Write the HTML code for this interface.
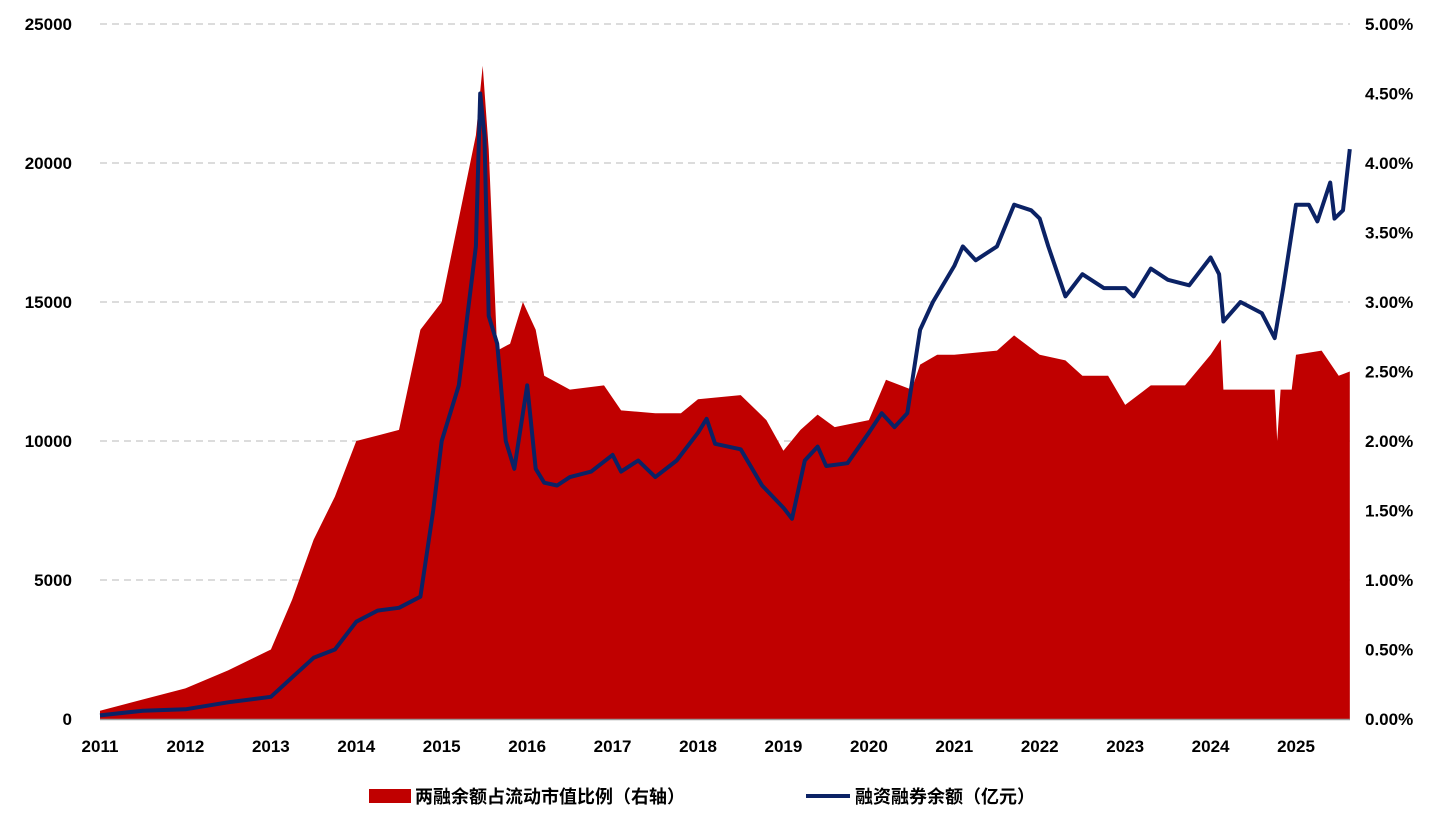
<!DOCTYPE html>
<html><head><meta charset="utf-8"><style>
html,body{margin:0;padding:0;background:#fff;}
svg text{font-family:"Liberation Sans","Noto Sans CJK SC",sans-serif;font-weight:bold;fill:#000;}
</style></head><body>
<svg id="chart" width="1441" height="829" xmlns="http://www.w3.org/2000/svg">
<g id="grid"></g><g id="area"></g><g id="line"></g><g id="axes"></g>
<g>
<rect x="369" y="789" width="42" height="14" fill="#c00000"/>
<text x="415" y="803" font-size="18">两融余额占流动市值比例（右轴）</text>
<line x1="806" y1="796" x2="850" y2="796" stroke="#0b2265" stroke-width="4"/>
<text x="855" y="803" font-size="18">融资融券余额（亿元）</text>
</g>
</svg>
<script>
const ratioT=[2011.0,2011.5,2012.0,2012.5,2013.0,2013.25,2013.5,2013.75,2014.0,2014.5,2014.75,2015.0,2015.2,2015.4,2015.48,2015.55,2015.65,2015.8,2015.95,2016.1,2016.2,2016.5,2016.9,2017.1,2017.5,2017.8,2018.0,2018.5,2018.8,2019.0,2019.2,2019.4,2019.6,2020.0,2020.2,2020.5,2020.6,2020.8,2021.0,2021.5,2021.7,2022.0,2022.3,2022.5,2022.8,2023.0,2023.3,2023.7,2024.0,2024.12,2024.15,2024.75,2024.78,2024.82,2024.95,2025.0,2025.3,2025.5,2025.63];
const ratioV=[0.06,0.14,0.22,0.35,0.5,0.86,1.29,1.6,2.0,2.08,2.8,3.0,3.6,4.2,4.7,4.1,2.65,2.7,3.0,2.8,2.47,2.37,2.4,2.22,2.2,2.2,2.3,2.33,2.15,1.93,2.08,2.19,2.1,2.15,2.44,2.37,2.55,2.62,2.62,2.65,2.76,2.62,2.58,2.47,2.47,2.26,2.4,2.4,2.62,2.73,2.37,2.37,2.0,2.37,2.37,2.62,2.65,2.47,2.5];
const balT=[2011.0,2011.5,2012.0,2012.5,2013.0,2013.25,2013.5,2013.75,2014.0,2014.25,2014.5,2014.75,2014.9,2015.0,2015.2,2015.4,2015.45,2015.5,2015.55,2015.65,2015.75,2015.85,2016.0,2016.1,2016.2,2016.35,2016.5,2016.75,2017.0,2017.1,2017.3,2017.5,2017.75,2018.0,2018.1,2018.2,2018.5,2018.75,2019.0,2019.1,2019.25,2019.4,2019.5,2019.75,2020.0,2020.15,2020.3,2020.45,2020.6,2020.75,2021.0,2021.1,2021.25,2021.5,2021.7,2021.9,2022.0,2022.1,2022.3,2022.5,2022.75,2023.0,2023.1,2023.3,2023.5,2023.75,2024.0,2024.1,2024.15,2024.35,2024.6,2024.75,2024.85,2025.0,2025.15,2025.25,2025.4,2025.45,2025.55,2025.63];
const balV=[130,300,350,600,800,1500,2200,2500,3500,3900,4000,4400,7500,10000,12000,17000,22500,21000,14500,13500,10000,9000,12000,9000,8500,8400,8700,8900,9500,8900,9300,8700,9300,10300,10800,9900,9700,8400,7600,7200,9300,9800,9100,9200,10300,11000,10500,11000,14000,15000,16300,17000,16500,17000,18500,18300,18000,17000,15200,16000,15500,15500,15200,16200,15800,15600,16600,16000,14300,15000,14600,13700,15500,18500,18500,17900,19300,18000,18300,20500];
const leftTicks=[0,5000,10000,15000,20000,25000];
const rightTicks=["0.00%","0.50%","1.00%","1.50%","2.00%","2.50%","3.00%","3.50%","4.00%","4.50%","5.00%"];
const yearTicks=[2011,2012,2013,2014,2015,2016,2017,2018,2019,2020,2021,2022,2023,2024,2025];
const NS="http://www.w3.org/2000/svg";
const x=t=>100+(t-2011)*85.43;
const yL=v=>719-v*695/25000;
const yR=p=>719-p*695/5;
function mk(tag,attrs,parent){const e=document.createElementNS(NS,tag);for(const k in attrs)e.setAttribute(k,attrs[k]);document.getElementById(parent).appendChild(e);return e;}
leftTicks.forEach((v,i)=>{
 if(v>0){const g=mk('line',{x1:100,x2:1350,y1:yL(v),y2:yL(v),stroke:'#c8c8c8','stroke-width':1.2,'stroke-dasharray':'7,5'},'grid');
 
 }
 const t=mk('text',{x:72,y:yL(v)+6,'text-anchor':'end','font-size':17},'axes');t.textContent=v;
 
 
});
rightTicks.forEach((s,i)=>{
 const t=mk('text',{x:1365,y:yR(i*0.5)+6,'font-size':17},'axes');t.textContent=s;
 
 
});
yearTicks.forEach(yr=>{
 const t=mk('text',{x:x(yr),y:752,'text-anchor':'middle','font-size':17},'axes');t.textContent=yr;
 
 
});
const ax=mk('line',{x1:100,x2:1350,y1:719.5,y2:719.5,stroke:'#999','stroke-width':1.5},'axes');


let d='M'+x(ratioT[0])+','+yR(0);
ratioT.forEach((t,i)=>{d+=' L'+x(t).toFixed(1)+','+yR(ratioV[i]).toFixed(1);});
d+=' L'+x(ratioT[ratioT.length-1])+','+yR(0)+' Z';
const a=mk('path',{d:d,fill:'#c00000'},'area');


let d2='';
balT.forEach((t,i)=>{d2+=(i?' L':'M')+x(t).toFixed(1)+','+yL(balV[i]).toFixed(1);});
const l=mk('path',{d:d2,fill:'none',stroke:'#0b2265','stroke-width':4,'stroke-linejoin':'round'},'line');


</script>
</body></html>
